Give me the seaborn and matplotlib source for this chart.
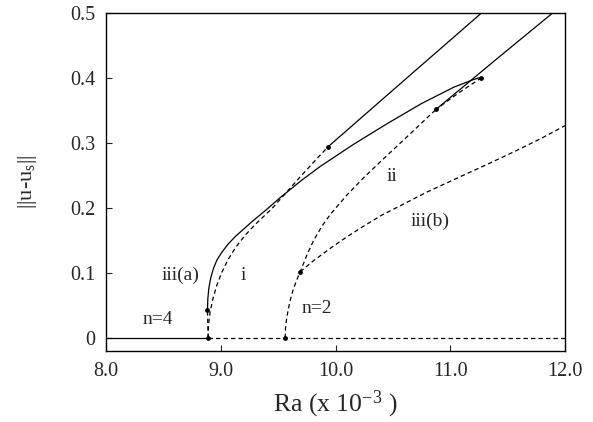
import matplotlib
matplotlib.use('Agg')
import matplotlib.pyplot as plt
import seaborn as sns
import pandas as pd

sns.set_style('ticks')
plt.rcParams['font.family'] = ['Liberation Serif', 'DejaVu Serif']
plt.rcParams['mathtext.fontset'] = 'custom'
plt.rcParams['mathtext.rm'] = 'Liberation Serif'
plt.rcParams['mathtext.it'] = 'Liberation Serif:italic'

# branch n=4 (trivial), solid then dashed
n4_solid_x = [8.0, 8.889]
n4_solid_y = [0.0, 0.0]
n4_dash_x = [8.889, 12.0]
n4_dash_y = [0.0, 0.0]

# short dashed piece from n=4 point to start of iii(a)
stub_x = [8.889, 8.883]
stub_y = [0.0, 0.043]

# iii(a) solid branch up to turning point
iiia_x = [8.883, 8.886, 8.895, 8.912, 8.935, 8.965, 9.008, 9.06, 9.124, 9.20,
          9.27, 9.386, 9.516, 9.705, 9.865, 10.155, 10.45, 10.75, 11.03, 11.19,
          11.24, 11.271]
iiia_y = [0.043, 0.060, 0.077, 0.093, 0.107, 0.120, 0.132, 0.144, 0.156, 0.168,
          0.179, 0.196, 0.216, 0.243, 0.264, 0.298, 0.330, 0.361, 0.386, 0.397,
          0.400, 0.4005]

# i dashed branch
i_x = [8.889, 8.892, 8.906, 8.93, 8.962, 9.005, 9.06, 9.13, 9.21, 9.30, 9.443,
       9.56, 9.691, 9.81, 9.932]
i_y = [0.0, 0.020, 0.040, 0.060, 0.080, 0.100, 0.120, 0.140, 0.158, 0.175, 0.199,
       0.222, 0.248, 0.271, 0.294]

# i solid continuation
i2_x = [9.932, 10.6, 11.27]
i2_y = [0.294, 0.397, 0.5]

# dashed back from turning point
turn_x = [11.271, 11.07, 10.876]
turn_y = [0.4005, 0.377, 0.352]

# solid from lower turning point
up_x = [10.876, 11.38, 11.89]
up_y = [0.352, 0.426, 0.5]

# ii dashed branch from n=2
ii_x = [9.560, 9.563, 9.573, 9.588, 9.607, 9.631, 9.66, 9.691, 9.75, 9.807,
        9.88, 9.952, 10.098, 10.24, 10.388, 10.533, 10.678, 10.876]
ii_y = [0.0, 0.015, 0.030, 0.045, 0.060, 0.075, 0.089, 0.102, 0.128, 0.150,
        0.172, 0.190, 0.220, 0.246, 0.271, 0.295, 0.319, 0.352]

# iii(b) dashed branch
iiib_x = [9.691, 9.80, 9.952, 10.1, 10.242, 10.40, 10.562, 10.8, 11.07, 11.33,
          11.582, 11.8, 12.0]
iiib_y = [0.102, 0.118, 0.138, 0.156, 0.172, 0.189, 0.2035, 0.225, 0.247, 0.268,
          0.289, 0.308, 0.327]

# bifurcation points
pts_x = [8.889, 8.883, 9.560, 9.691, 9.932, 10.876, 11.271]
pts_y = [0.0, 0.043, 0.0, 0.102, 0.294, 0.352, 0.4005]

labels = ['iii(a)', 'i', 'ii', 'iii(b)', 'n=4', 'n=2']
label_x = [8.645, 9.197, 10.49, 10.82, 8.45, 9.836]
label_y = [0.097, 0.097, 0.248, 0.179, 0.028, 0.046]

fig = plt.figure(figsize=(5.93, 4.22), dpi=100)
ax = fig.add_axes([0.179, 0.168, 0.774, 0.801])

lw = 0.9
dash = (3.5, 2.5)


def draw(x, y, dashed=False):
    d = pd.DataFrame({'x': x, 'y': y})
    if dashed:
        sns.lineplot(data=d, x='x', y='y', sort=False, estimator=None, ax=ax,
                     color='black', lw=lw, dashes=False, linestyle=(0, dash))
    else:
        sns.lineplot(data=d, x='x', y='y', sort=False, estimator=None, ax=ax,
                     color='black', lw=lw)


draw(n4_solid_x, n4_solid_y)
draw(n4_dash_x, n4_dash_y, True)
draw(stub_x, stub_y, True)
draw(iiia_x, iiia_y)
draw(i_x, i_y, True)
draw(i2_x, i2_y)
draw(turn_x, turn_y, True)
draw(up_x, up_y)
draw(ii_x, ii_y, True)
draw(iiib_x, iiib_y, True)

sns.scatterplot(x=pts_x, y=pts_y, ax=ax, color='black', s=12, edgecolor='black',
                linewidth=0, zorder=5)

for t, x, y in zip(labels, label_x, label_y):
    ax.text(x, y, t, fontsize=14, ha='center', va='center')

ax.set_xlim(8.0, 12.0)
ax.set_ylim(-0.02, 0.5)
ax.set_xticks([8, 9, 10, 11, 12])
ax.set_xticklabels(['8.0', '9.0', '10.0', '11.0', '12.0'])
ax.set_yticks([0, 0.1, 0.2, 0.3, 0.4, 0.5])
ax.set_yticklabels(['0', '0.1', '0.2', '0.3', '0.4', '0.5'])
ax.tick_params(direction='in', length=4.5, width=0.8, labelsize=14.5, pad=8)
for s in ax.spines.values():
    s.set_linewidth(1.0)
    s.set_color('black')

ax.set_xlabel('Ra (x 10$^{\\mathrm{-3}}$ )', fontsize=18.5, labelpad=5)
ax.set_ylabel('||u-u$_{\\mathrm{s}}$||', fontsize=16, labelpad=22)

fig.savefig('out.png', dpi=100)
